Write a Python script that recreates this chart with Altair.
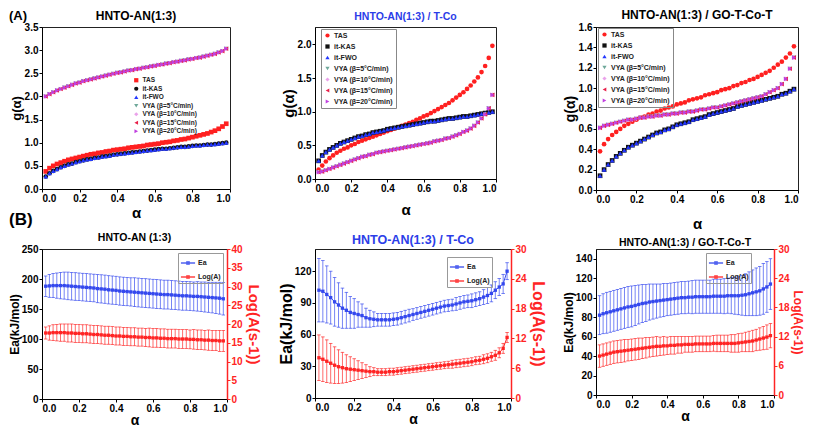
import altair as alt
import pandas as pd

FONT = "Liberation Sans"
BLUE = "#3448ee"
RED = "#ff2424"

panel_labels = ["(A)", "(B)"]
panel_titles = ["HNTO-AN(1:3)", "HNTO-AN(1:3) / T-Co", "HNTO-AN(1:3) / GO-T-Co-T",
                "HNTO-AN (1:3)", "HNTO-AN(1:3) / T-Co", "HNTO-AN(1:3) / GO-T-Co-T"]
alpha = [0.02, 0.04, 0.06, 0.08, 0.10, 0.12, 0.14, 0.16, 0.18, 0.20,
         0.22, 0.24, 0.26, 0.28, 0.30, 0.32, 0.34, 0.36, 0.38, 0.40,
         0.42, 0.44, 0.46, 0.48, 0.50, 0.52, 0.54, 0.56, 0.58, 0.60,
         0.62, 0.64, 0.66, 0.68, 0.70, 0.72, 0.74, 0.76, 0.78, 0.80,
         0.82, 0.84, 0.86, 0.88, 0.90, 0.92, 0.94, 0.96, 0.98]
x_ticks = [0.0, 0.2, 0.4, 0.6, 0.8, 1.0]

series = ["TAS", "it-KAS", "it-FWO", "VYA (β=5°C/min)", "VYA (β=10°C/min)",
          "VYA (β=15°C/min)", "VYA (β=20°C/min)"]
series_colors = ["#ff2020", "#111111", "#2438ff", "#6fa89a", "#eaa2ea", "#e8204a", "#c040e0"]
shapes_a1 = ["square", "circle", "triangle-up", "triangle-down", "diamond", "triangle-left", "triangle-right"]
shapes_a23 = ["circle", "square", "triangle-up", "triangle-down", "diamond", "triangle-left", "triangle-right"]

# ---- panel A1: HNTO-AN(1:3)
a1_tas = [0.38, 0.45, 0.50, 0.54, 0.57, 0.60, 0.63, 0.65, 0.67, 0.69,
          0.71, 0.73, 0.75, 0.76, 0.78, 0.79, 0.81, 0.82, 0.84, 0.85,
          0.86, 0.87, 0.89, 0.90, 0.91, 0.92, 0.93, 0.95, 0.96, 0.97,
          0.98, 1.00, 1.01, 1.02, 1.04, 1.05, 1.07, 1.08, 1.10, 1.12,
          1.14, 1.16, 1.18, 1.20, 1.23, 1.26, 1.30, 1.35, 1.41]
a1_iso = [0.27, 0.34, 0.39, 0.43, 0.47, 0.50, 0.53, 0.55, 0.58, 0.60,
          0.62, 0.64, 0.65, 0.67, 0.68, 0.70, 0.71, 0.72, 0.74, 0.75,
          0.76, 0.77, 0.78, 0.79, 0.80, 0.81, 0.82, 0.83, 0.84, 0.85,
          0.86, 0.87, 0.87, 0.88, 0.89, 0.90, 0.91, 0.91, 0.92, 0.93,
          0.94, 0.94, 0.95, 0.96, 0.96, 0.97, 0.98, 0.99, 1.00]
a1_vya = [2.00, 2.05, 2.09, 2.13, 2.16, 2.19, 2.22, 2.25, 2.28, 2.30,
          2.33, 2.35, 2.37, 2.39, 2.41, 2.43, 2.45, 2.47, 2.49, 2.51,
          2.52, 2.54, 2.56, 2.57, 2.59, 2.60, 2.62, 2.63, 2.65, 2.66,
          2.68, 2.69, 2.71, 2.72, 2.74, 2.75, 2.77, 2.78, 2.80, 2.81,
          2.83, 2.84, 2.86, 2.88, 2.90, 2.92, 2.95, 2.98, 3.03]

# ---- panel A2: HNTO-AN(1:3) / T-Co
a2_tas = [0.14, 0.20, 0.26, 0.31, 0.35, 0.39, 0.42, 0.45, 0.47, 0.50,
          0.52, 0.55, 0.57, 0.59, 0.61, 0.63, 0.65, 0.67, 0.69, 0.71,
          0.73, 0.75, 0.77, 0.79, 0.81, 0.83, 0.85, 0.88, 0.90, 0.93,
          0.95, 0.98, 1.01, 1.04, 1.07, 1.10, 1.13, 1.17, 1.21, 1.25,
          1.29, 1.34, 1.39, 1.45, 1.51, 1.59, 1.68, 1.80, 1.98]
a2_iso = [0.27, 0.35, 0.40, 0.44, 0.47, 0.50, 0.53, 0.55, 0.57, 0.59,
          0.61, 0.63, 0.64, 0.66, 0.67, 0.69, 0.70, 0.71, 0.72, 0.74,
          0.75, 0.76, 0.77, 0.78, 0.79, 0.80, 0.81, 0.82, 0.83, 0.84,
          0.85, 0.86, 0.86, 0.87, 0.88, 0.89, 0.90, 0.90, 0.91, 0.92,
          0.93, 0.93, 0.94, 0.95, 0.96, 0.97, 0.98, 0.99, 1.00]
a2_vya = [0.10, 0.11, 0.13, 0.15, 0.17, 0.19, 0.21, 0.23, 0.25, 0.27,
          0.29, 0.31, 0.33, 0.34, 0.36, 0.37, 0.39, 0.40, 0.41, 0.42,
          0.43, 0.44, 0.45, 0.46, 0.47, 0.48, 0.49, 0.50, 0.51, 0.52,
          0.53, 0.54, 0.56, 0.57, 0.58, 0.60, 0.61, 0.63, 0.65, 0.67,
          0.70, 0.72, 0.75, 0.79, 0.84, 0.90, 0.96, 1.05, 1.25]

# ---- panel A3: HNTO-AN(1:3) / GO-T-Co-T
a3_tas = [0.38, 0.45, 0.50, 0.54, 0.57, 0.60, 0.63, 0.65, 0.67, 0.69,
          0.71, 0.72, 0.74, 0.75, 0.77, 0.78, 0.80, 0.81, 0.82, 0.84,
          0.85, 0.86, 0.88, 0.89, 0.90, 0.91, 0.93, 0.94, 0.95, 0.96,
          0.98, 0.99, 1.00, 1.02, 1.03, 1.05, 1.06, 1.08, 1.09, 1.11,
          1.13, 1.15, 1.17, 1.20, 1.23, 1.26, 1.30, 1.34, 1.41]
a3_iso = [0.14, 0.20, 0.25, 0.29, 0.33, 0.36, 0.39, 0.42, 0.44, 0.46,
          0.48, 0.50, 0.52, 0.54, 0.56, 0.57, 0.59, 0.60, 0.62, 0.64,
          0.65, 0.66, 0.67, 0.69, 0.70, 0.71, 0.72, 0.74, 0.75, 0.76,
          0.77, 0.78, 0.79, 0.80, 0.82, 0.83, 0.84, 0.85, 0.86, 0.87,
          0.88, 0.89, 0.90, 0.91, 0.92, 0.94, 0.95, 0.97, 0.99]
a3_vya = [0.61, 0.63, 0.64, 0.65, 0.66, 0.67, 0.68, 0.69, 0.69, 0.70,
          0.71, 0.71, 0.72, 0.72, 0.73, 0.73, 0.74, 0.74, 0.75, 0.75,
          0.76, 0.76, 0.77, 0.77, 0.78, 0.79, 0.79, 0.80, 0.81, 0.81,
          0.82, 0.83, 0.84, 0.85, 0.86, 0.87, 0.88, 0.89, 0.90, 0.91,
          0.92, 0.94, 0.96, 0.98, 1.00, 1.04, 1.09, 1.19, 1.30]

# ---- panel B1
b1_ea = [188, 188.5, 189, 189, 189, 189, 188.5, 188, 187.5, 187,
         186.5, 186, 185.5, 185, 184, 183.5, 183, 182, 181.5, 181,
         180, 179.5, 179, 178.5, 178, 177.5, 177, 176.5, 176, 175.5,
         175, 174.5, 174, 174, 173.5, 173, 172.5, 172, 172, 171.5,
         171, 171, 170.5, 170, 169.5, 169, 168.5, 168, 167]
b1_ea_err = [17, 19, 20, 21, 22, 22.5, 23, 23, 23, 23,
             23, 23, 23, 23, 23.5, 23.5, 23.5, 23.5, 23.5, 23.5,
             23.5, 23.5, 23.5, 23.5, 24, 24, 24, 24, 24, 24,
             24, 24, 24, 24, 24, 24, 24, 24, 24, 24,
             24, 24.5, 24.5, 25, 25, 25.5, 26, 26.5, 27]
b1_la = [17.6, 17.6, 17.7, 17.7, 17.7, 17.7, 17.6, 17.6, 17.5, 17.5,
         17.4, 17.4, 17.3, 17.2, 17.2, 17.1, 17.0, 17.0, 16.9, 16.8,
         16.8, 16.7, 16.7, 16.6, 16.6, 16.5, 16.5, 16.4, 16.4, 16.3,
         16.3, 16.2, 16.2, 16.1, 16.1, 16.1, 16.0, 16.0, 16.0, 15.9,
         15.9, 15.8, 15.8, 15.7, 15.7, 15.6, 15.6, 15.5, 15.5]
b1_la_err = [1.6, 1.9, 2.1, 2.2, 2.3, 2.3, 2.4, 2.4, 2.4, 2.4,
             2.4, 2.4, 2.4, 2.4, 2.4, 2.4, 2.4, 2.4, 2.4, 2.4,
             2.4, 2.4, 2.4, 2.4, 2.4, 2.4, 2.4, 2.4, 2.5, 2.5,
             2.5, 2.5, 2.5, 2.5, 2.5, 2.5, 2.5, 2.5, 2.5, 2.5,
             2.6, 2.6, 2.6, 2.6, 2.7, 2.7, 2.7, 2.8, 2.8]

# ---- panel B2
b2_ea = [102, 101, 98, 95, 91, 88, 85, 83, 81, 80,
         79, 78, 76, 75, 74.5, 74, 74, 74, 74, 74.5,
         75, 76, 77, 78, 79, 80, 81, 82, 83, 84,
         85, 86, 87, 87.5, 88, 89, 90, 91, 91.5, 92,
         93, 94, 95.5, 97, 99, 102, 105, 108, 120]
b2_ea_err = [30, 29, 27, 25, 23, 21, 19, 17, 15, 14,
             12, 11, 9, 8, 7, 6, 6, 6, 6, 6,
             6, 6, 6, 6, 5.5, 5.5, 5.5, 5.5, 5.5, 5.5,
             5.5, 5.5, 5.5, 5.5, 5.5, 6, 6, 6, 6, 6.5,
             6.5, 6.5, 7, 7.5, 8, 8, 8, 9, 8]
b2_la = [8.1, 7.8, 7.4, 7.0, 6.6, 6.3, 6.1, 5.9, 5.8, 5.7,
         5.6, 5.5, 5.4, 5.3, 5.3, 5.2, 5.2, 5.2, 5.3, 5.3,
         5.4, 5.5, 5.6, 5.7, 5.8, 5.9, 6.0, 6.1, 6.2, 6.3,
         6.4, 6.5, 6.6, 6.7, 6.8, 6.9, 7.0, 7.1, 7.2, 7.3,
         7.5, 7.6, 7.8, 8.0, 8.3, 8.6, 9.1, 10.0, 12.2]
b2_la_err = [4.6, 4.5, 4.3, 4.0, 3.7, 3.4, 3.1, 2.8, 2.5, 2.2,
             1.9, 1.6, 1.3, 1.0, 0.8, 0.7, 0.7, 0.7, 0.7, 0.7,
             0.7, 0.7, 0.7, 0.7, 0.7, 0.7, 0.7, 0.7, 0.7, 0.7,
             0.7, 0.7, 0.7, 0.7, 0.8, 0.8, 0.8, 0.8, 0.8, 0.8,
             0.8, 0.8, 0.9, 0.9, 0.9, 1.0, 1.0, 1.0, 1.0]

# ---- panel B3
b3_ea = [82, 83.5, 84.5, 85.5, 86.5, 87.5, 88.5, 89.5, 90.5, 91,
         92, 93, 94, 94.5, 95.5, 96, 96.5, 97, 97.5, 98,
         98.5, 99, 99.5, 100, 100, 100.5, 100.5, 101, 101, 101,
         101, 101, 101.5, 101.5, 101.5, 101.5, 102, 102, 102, 102,
         102.5, 103, 104, 105, 106, 107, 109, 111, 114]
b3_ea_err = [20, 20.5, 21, 21, 21, 21, 21, 21, 21, 21,
             20.5, 20, 19.5, 19, 18.5, 18, 17.5, 17, 17, 16.5,
             16.5, 16.5, 16.5, 16.5, 16.5, 16.5, 17, 17, 17, 17,
             17, 17, 17.5, 17.5, 17.5, 18, 18, 18.5, 19, 19.5,
             20.5, 21.5, 22.5, 23.5, 24.5, 25, 26, 26, 26]
b3_la = [8.0, 8.2, 8.4, 8.6, 8.8, 8.9, 9.0, 9.1, 9.2, 9.3,
         9.4, 9.5, 9.6, 9.7, 9.8, 9.9, 10.0, 10.0, 10.1, 10.1,
         10.2, 10.2, 10.3, 10.3, 10.4, 10.4, 10.4, 10.5, 10.5, 10.5,
         10.5, 10.5, 10.6, 10.6, 10.6, 10.6, 10.6, 10.6, 10.6, 10.7,
         10.8, 10.9, 11.0, 11.1, 11.3, 11.5, 11.7, 11.9, 12.2]
b3_la_err = [2.3, 2.3, 2.3, 2.3, 2.3, 2.3, 2.3, 2.3, 2.2, 2.2,
             2.2, 2.2, 2.1, 2.1, 2.0, 2.0, 2.0, 1.9, 1.9, 1.8,
             1.8, 1.8, 1.7, 1.7, 1.6, 1.6, 1.6, 1.6, 1.6, 1.6,
             1.6, 1.6, 1.6, 1.7, 1.7, 1.7, 1.7, 1.8, 1.8, 1.9,
             1.9, 2.0, 2.1, 2.2, 2.2, 2.3, 2.4, 2.5, 2.5]

b_series = ["Ea", "Log(A)"]


def x_enc(title_pad, title_size):
    return alt.X("alpha:Q", scale=alt.Scale(domain=[0, 1], nice=False),
                 axis=alt.Axis(values=x_ticks, format=".1f", title="α", titlePadding=title_pad,
                               titleFontSize=title_size))


def text_layer(text, dx, dy, size, color, align):
    return alt.Chart(pd.DataFrame({"t": [text]})).mark_text(
        font=FONT, fontSize=size, fontWeight="bold", align=align, baseline="middle", color=color
    ).encode(x=alt.value(dx), y=alt.value(dy), text="t:N")


def a_panel(tas, iso, vya, shapes, ymax, yticks, width, height, title, tcolor, tsize, ty,
            ytsize, xpad, lx, ly, lsize, lrow, lstroke, label=None):
    vals = [tas, iso, iso, vya, vya, vya, vya]
    rows = []
    for name, v in zip(series, vals):
        for a, g in zip(alpha, v):
            rows.append({"alpha": a, "g": g, "series": name})
    df = pd.DataFrame(rows)
    leg = alt.Legend(title=None, orient="none", legendX=lx, legendY=ly, labelFont=FONT,
                     labelFontSize=lsize, labelFontWeight="bold", labelColor="#222",
                     symbolSize=18, rowPadding=lrow, padding=3, labelOffset=3,
                     strokeColor=lstroke, labelLimit=200)
    pts = alt.Chart(df).mark_point(filled=True, size=22, opacity=1).encode(
        x=x_enc(xpad, 15),
        y=alt.Y("g:Q", scale=alt.Scale(domain=[0, ymax], nice=False),
                axis=alt.Axis(values=yticks, format=".1f", title="g(α)", titleFontSize=ytsize,
                              titlePadding=1)),
        color=alt.Color("series:N", scale=alt.Scale(domain=series, range=series_colors), legend=leg),
        shape=alt.Shape("series:N", scale=alt.Scale(domain=series, range=shapes), legend=leg),
    )
    layers = [pts, text_layer(title, width / 2, ty, tsize, tcolor, "center")]
    if label is not None:
        layers.append(text_layer(label, -33, -11.5, 13, "#000", "left"))
    return alt.layer(*layers).properties(width=width, height=height)


def b_panel(ea, ea_err, la, la_err, ea_max, ea_ticks, la_max, la_ticks, width, height,
            title, tcolor, tsize, ty, lt_size, rt_size, rt_pad, xpad, lx, ly, label=None):
    rows = []
    for name, v, e in [("Ea", ea, ea_err), ("Log(A)", la, la_err)]:
        for a, val, err in zip(alpha, v, e):
            rows.append({"alpha": a, "v": val, "err": err, "series": name})
    df = pd.DataFrame(rows)
    base = alt.Chart(df).transform_calculate(lo="datum.v - datum.err", hi="datum.v + datum.err")
    leg = alt.Legend(title=None, orient="none", legendX=lx, legendY=ly, labelFont=FONT,
                     labelFontSize=7, labelFontWeight="bold", labelColor="#222",
                     symbolType="M-1,0L1,0M-0.17,-0.17L0.17,-0.17L0.17,0.17L-0.17,0.17Z",
                     symbolSize=200, symbolStrokeWidth=1.3, rowPadding=2, padding=2,
                     labelOffset=2, strokeColor="#999")
    color = alt.Color("series:N", scale=alt.Scale(domain=b_series, range=[BLUE, RED]), legend=leg)
    x = x_enc(xpad, 14)

    def group(sname, ymax, axis, title_txt):
        b = base.transform_filter(alt.datum.series == sname)
        sc = alt.Scale(domain=[0, ymax], nice=False)

        def Y(field):
            return alt.Y(field, scale=sc, axis=axis, title=title_txt)
        line = b.mark_line(strokeWidth=1).encode(x=x, y=Y("v:Q"), color=color)
        rule = b.mark_rule(strokeWidth=0.8, opacity=0.85).encode(x=x, y=Y("lo:Q"), y2="hi:Q", color=color)
        cap_lo = b.mark_tick(orient="horizontal", size=3.5, thickness=0.8, opacity=0.85).encode(
            x=x, y=Y("lo:Q"), color=color)
        cap_hi = b.mark_tick(orient="horizontal", size=3.5, thickness=0.8, opacity=0.85).encode(
            x=x, y=Y("hi:Q"), color=color)
        pts = b.mark_square(size=11, opacity=1).encode(x=x, y=Y("v:Q"), color=color)
        return alt.layer(line, rule, cap_lo, cap_hi, pts)

    left_axis = alt.Axis(values=ea_ticks, format="d", titleFontSize=lt_size, titlePadding=0)
    right_axis = alt.Axis(values=la_ticks, format="d", orient="right", titleFontSize=rt_size,
                          titleColor=RED, labelColor=RED, tickColor=RED, domainColor=RED,
                          domainWidth=1.5, titlePadding=rt_pad)
    g1 = group("Ea", ea_max, left_axis, "Ea(kJ/mol)")
    g2 = group("Log(A)", la_max, right_axis, "Log(A(s-1))")
    layers = [g1, g2, text_layer(title, width / 2, ty, tsize, tcolor, "center")]
    if label is not None:
        layers.append(text_layer(label, -33, -29, 17, "#000", "left"))
    return alt.layer(*layers).resolve_scale(y="independent").properties(width=width, height=height)


A1 = a_panel(a1_tas, a1_iso, a1_vya, shapes_a1, 3.5, [0, 0.5, 1, 1.5, 2, 2.5, 3, 3.5],
             188, 162, panel_titles[0], "#000", 12, -11, 13, 2, 88, 47, 6.5, 1.5, None,
             label=panel_labels[0])
A2 = a_panel(a2_tas, a2_iso, a2_vya, shapes_a23, 2.26, [0, 0.5, 1, 1.5, 2],
             181, 152, panel_titles[1], "#2b3de8", 10.5, -10, 15, 9, 6, 2, 7, 3, "#888")
A3 = a_panel(a3_tas, a3_iso, a3_vya, shapes_a23, 1.6, [0, 0.2, 0.4, 0.6, 0.8, 1.0, 1.2, 1.4, 1.6],
             202, 163, panel_titles[2], "#000", 12, -12, 14, 12, 2, 1, 7, 3, "#888")

B1 = b_panel(b1_ea, b1_ea_err, b1_la, b1_la_err, 250, [0, 50, 100, 150, 200, 250],
             40, [0, 5, 10, 15, 20, 25, 30, 35, 40], 185, 150, panel_titles[3], "#000", 10.5, -11,
             12, 15, 3, 0, 136, 4, label=panel_labels[1])
B2 = b_panel(b2_ea, b2_ea_err, b2_la, b2_la_err, 141, [0, 30, 60, 90, 120],
             30, [0, 6, 12, 18, 24, 30], 196, 149, panel_titles[4], "#2b3de8", 12.5, -9,
             16, 16, 3, 0, 132, 8)
B3 = b_panel(b3_ea, b3_ea_err, b3_la, b3_la_err, 150, [0, 20, 40, 60, 80, 100, 120, 140],
             30, [0, 6, 12, 18, 24, 30], 178, 146, panel_titles[5], "#000", 10.5, -6,
             12, 12, 1, 0, 110, 4)

chart = alt.concat(
    A1, A2, A3, B1, B2, B3, columns=3,
    spacing={"row": 59, "column": 85}, bounds="flush",
    align={"row": "all", "column": "none"},
).resolve_scale(
    color="independent", shape="independent", x="independent", y="independent"
).resolve_legend(
    color="independent", shape="independent"
).properties(
    autosize=alt.AutoSizeParams(type="none"),
    padding={"left": 34, "top": 19, "right": 763, "bottom": 402},
).configure(
    font=FONT
).configure_view(
    stroke="#222", strokeWidth=1
).configure_axis(
    grid=False, labelFont=FONT, titleFont=FONT, labelFontSize=10, labelFontWeight="bold",
    titleFontWeight="bold", labelColor="#000", titleColor="#000", tickColor="#000",
    domainColor="#000", tickSize=3, labelPadding=1
)

chart.save("out.html", embed_options={"renderer": "svg", "actions": False})
